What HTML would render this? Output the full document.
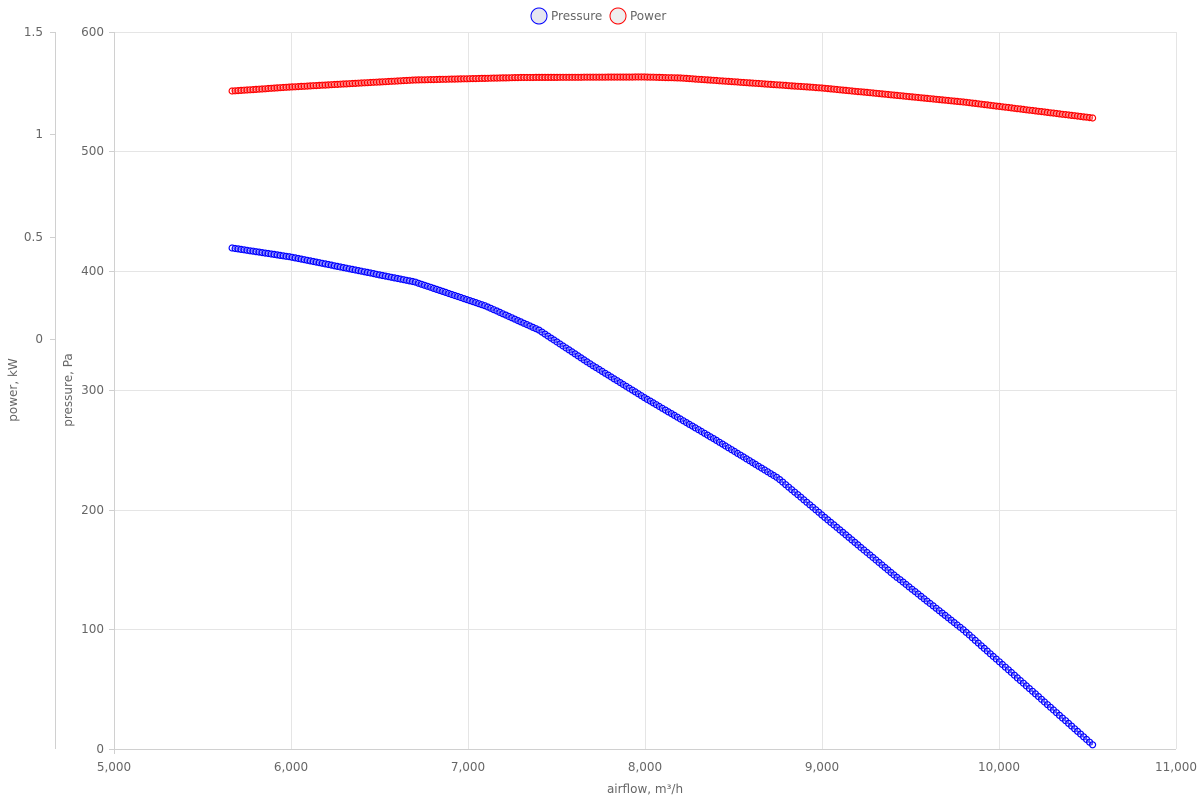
<!DOCTYPE html>
<html><head><meta charset="utf-8"><style>
body{margin:0;background:#fff}
svg text{font-family:"DejaVu Sans","Liberation Sans",sans-serif;font-size:12px;fill:#666}
</style></head><body>
<svg id="s" width="1200" height="800" xmlns="http://www.w3.org/2000/svg">
<g stroke="#e5e5e5" stroke-width="1">
<line x1="114" y1="32.5" x2="1176" y2="32.5"/>
<line x1="114" y1="151.5" x2="1176" y2="151.5"/>
<line x1="114" y1="271.5" x2="1176" y2="271.5"/>
<line x1="114" y1="390.5" x2="1176" y2="390.5"/>
<line x1="114" y1="510.5" x2="1176" y2="510.5"/>
<line x1="114" y1="629.5" x2="1176" y2="629.5"/>
<line x1="291.5" y1="32" x2="291.5" y2="749"/>
<line x1="468.5" y1="32" x2="468.5" y2="749"/>
<line x1="645.5" y1="32" x2="645.5" y2="749"/>
<line x1="822.5" y1="32" x2="822.5" y2="749"/>
<line x1="999.5" y1="32" x2="999.5" y2="749"/>
<line x1="1176.5" y1="32" x2="1176.5" y2="749"/>
</g>
<g stroke="#d0d0d0" stroke-width="1">
<line x1="114.5" y1="32" x2="114.5" y2="754"/>
<line x1="109" y1="749.5" x2="1176" y2="749.5"/>
<line x1="55.5" y1="32" x2="55.5" y2="749"/>
<line x1="50" y1="32.5" x2="55" y2="32.5"/>
<line x1="50" y1="134.5" x2="55" y2="134.5"/>
<line x1="50" y1="237.5" x2="55" y2="237.5"/>
<line x1="50" y1="339.5" x2="55" y2="339.5"/>
<line x1="109" y1="32.5" x2="114" y2="32.5"/>
<line x1="109" y1="151.5" x2="114" y2="151.5"/>
<line x1="109" y1="271.5" x2="114" y2="271.5"/>
<line x1="109" y1="390.5" x2="114" y2="390.5"/>
<line x1="109" y1="510.5" x2="114" y2="510.5"/>
<line x1="109" y1="629.5" x2="114" y2="629.5"/>
</g>
<g text-anchor="end">
<text x="43" y="36">1.5</text><text x="43" y="138">1</text><text x="43" y="241">0.5</text><text x="43" y="343">0</text>
<text x="104" y="36">600</text><text x="104" y="155">500</text><text x="104" y="275">400</text><text x="104" y="394">300</text><text x="104" y="514">200</text><text x="104" y="633">100</text><text x="104" y="753">0</text>
</g>
<g text-anchor="middle">
<text x="114" y="771">5,000</text><text x="291" y="771">6,000</text><text x="468" y="771">7,000</text><text x="645" y="771">8,000</text><text x="822" y="771">9,000</text><text x="999" y="771">10,000</text><text x="1176" y="771">11,000</text>
<text x="645" y="793">airflow, m³/h</text>
<text transform="translate(17,390) rotate(-90)">power, kW</text>
<text transform="translate(72,390) rotate(-90)">pressure, Pa</text>
</g>
<circle cx="539" cy="16" r="8" fill="#e6e6f0" stroke="#00f" stroke-width="1"/>
<text x="551" y="20">Pressure</text>
<circle cx="618" cy="16" r="8" fill="#eee" stroke="#f00" stroke-width="1"/>
<text x="630" y="20">Power</text>
<g id="g"></g>
</svg>
<script>
function X(v){return 114+(v-5000)*0.177}
var red=[[5667,91],[6000,87],[6700,80],[7300,77.5],[8000,77],[8200,78],[9000,88],[9800,102],[10530,118]];
var blue=[[5667,248],[6000,257],[6700,282],[7100,306],[7400,330],[7700,365],[8000,398],[8400,440],[8750,478],[9000,515],[9400,574],[9800,630],[10200,693],[10530,745]];
function interp(p,x){for(var i=0;i<p.length-1;i++){if(x<=p[i+1][0]){var t=(x-p[i][0])/(p[i+1][0]-p[i][0]);return p[i][1]+t*(p[i+1][1]-p[i][1]);}}return p[p.length-1][1];}
var g=document.getElementById('g'),h='';
[[red,'#f00'],[blue,'#00f']].forEach(function(s){
 var pts=[];for(var x=5667;x<=10531;x+=17){pts.push(X(x).toFixed(1)+','+interp(s[0],x).toFixed(1));}
 h+='<polyline points="'+pts.join(' ')+'" fill="none" stroke="'+s[1]+'" stroke-width="2"/>';
 pts.forEach(function(p){var a=p.split(',');h+='<circle cx="'+a[0]+'" cy="'+a[1]+'" r="3" fill="rgba(255,255,255,0.3)" stroke="'+s[1]+'" stroke-width="1.2"/>';});
});
g.innerHTML=h;
</script>
</body></html>
